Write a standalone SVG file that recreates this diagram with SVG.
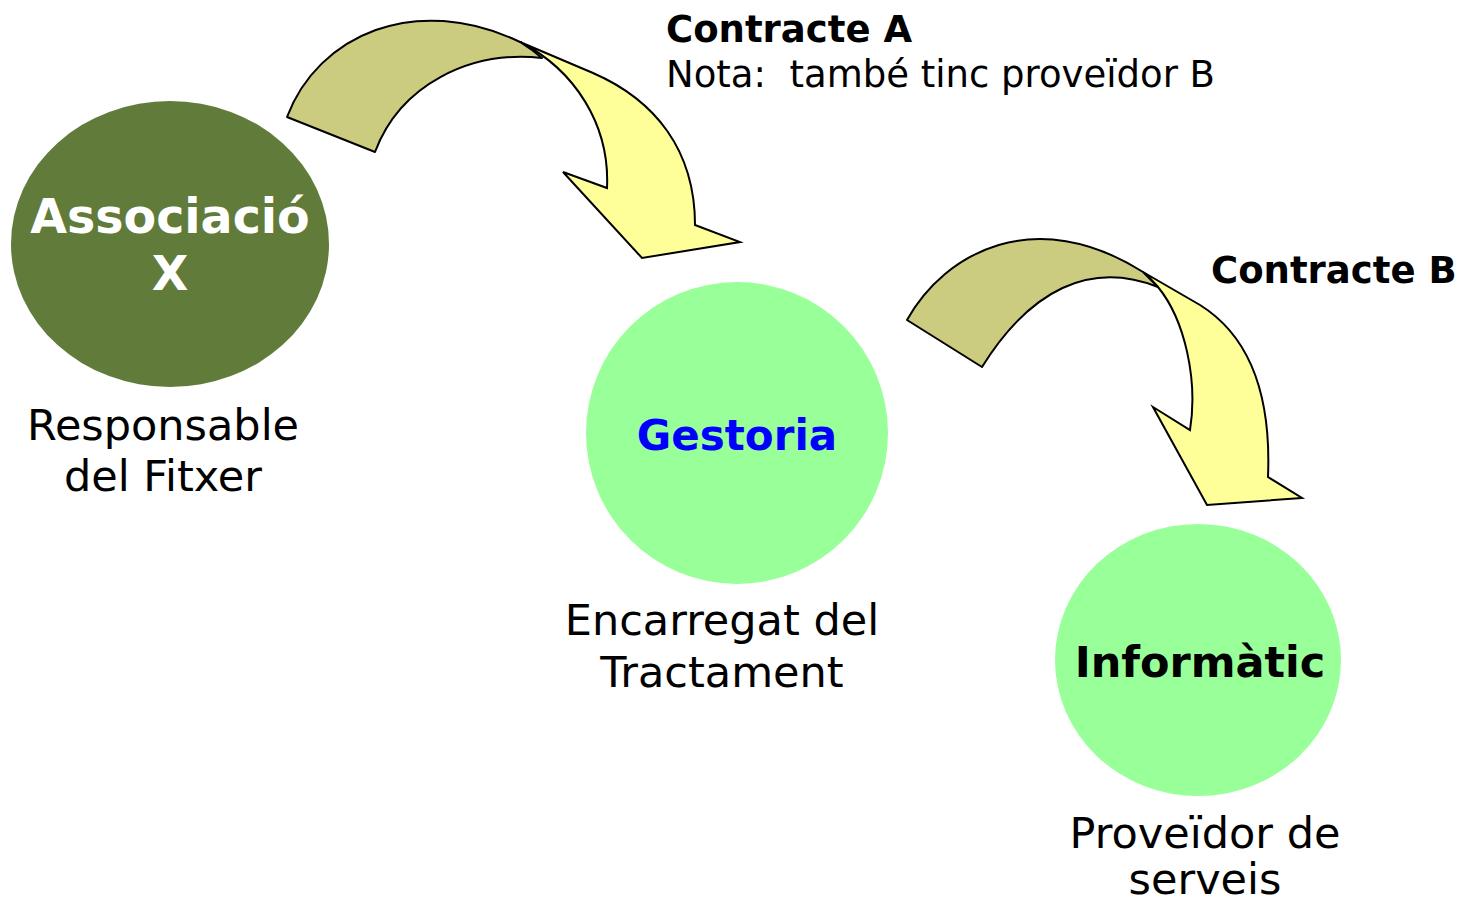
<svg xmlns="http://www.w3.org/2000/svg" width="1462" height="902" viewBox="0 0 1462 902">
<style>
.t{font-family:"DejaVu Sans","Verdana",sans-serif;}
.b{font-weight:bold;}
.lbl{font-size:43px;fill:#000;text-anchor:middle;}
.ctr{font-size:37px;fill:#000;}
.back{fill:#CCCC80;stroke:#000;stroke-width:2;stroke-linejoin:round;}
.front{fill:#FFFF99;stroke:#000;stroke-width:2;stroke-linejoin:miter;}
</style>
<rect width="1462" height="902" fill="#fff"/>
<g id="connectors">
  <g id="arrowA">
    <path class="front" d="M520,42 L593,73 C655,100 695,150 695,225 L740,242 L642,258 L563,172 L607,188 C610,125 575,70 520,42 Z"/>
    <path class="back" d="M287,117 C318,35 415,-8 520,42 C528,47 535,52 542,58 C470,50 400,85 375,152 Z"/>
  </g>
  <g id="arrowB">
    <path class="front" d="M1143,272 L1200,305 C1240,330 1272,380 1268,477 L1302,498 L1207,505 L1153,407 L1190,430 C1198,380 1185,320 1158,287 C1153,281 1148,276 1143,272 Z"/>
    <path class="back" d="M907,320 C945,252 1035,204 1143,272 L1158,287 C1090,260 1030,290 982,367 Z"/>
  </g>
</g>
<g id="contracteA">
  <text class="t b ctr" x="666" y="42">Contracte A</text>
  <text class="t ctr" x="666" y="87" xml:space="preserve">Nota:  també tinc proveïdor B</text>
</g>
<g id="contracteB">
  <text class="t b ctr" x="1211" y="283">Contracte B</text>
</g>
<g id="associacio">
  <ellipse cx="170" cy="244" rx="159" ry="143" fill="#617B3B"/>
  <text class="t b" x="170" y="233" font-size="47.5" fill="#fff" text-anchor="middle">Associació</text>
  <text class="t b" x="170" y="290" font-size="47.5" fill="#fff" text-anchor="middle">X</text>
  <text class="t lbl" x="163" y="440" font-size="42">Responsable</text>
  <text class="t lbl" x="163" y="491" font-size="42">del Fitxer</text>
</g>
<g id="gestoria">
  <circle cx="737" cy="433" r="151" fill="#99FF99"/>
  <text class="t b" x="737" y="450" font-size="42" fill="#0000FF" text-anchor="middle">Gestoria</text>
  <text class="t lbl" x="722" y="635">Encarregat del</text>
  <text class="t lbl" x="722" y="687">Tractament</text>
</g>
<g id="informatic">
  <ellipse cx="1198" cy="660" rx="143" ry="136" fill="#99FF99"/>
  <text class="t b" x="1200" y="677" font-size="43" fill="#000" text-anchor="middle">Informàtic</text>
  <text class="t lbl" x="1205" y="848">Proveïdor de</text>
  <text class="t lbl" x="1205" y="894">serveis</text>
</g>
</svg>
